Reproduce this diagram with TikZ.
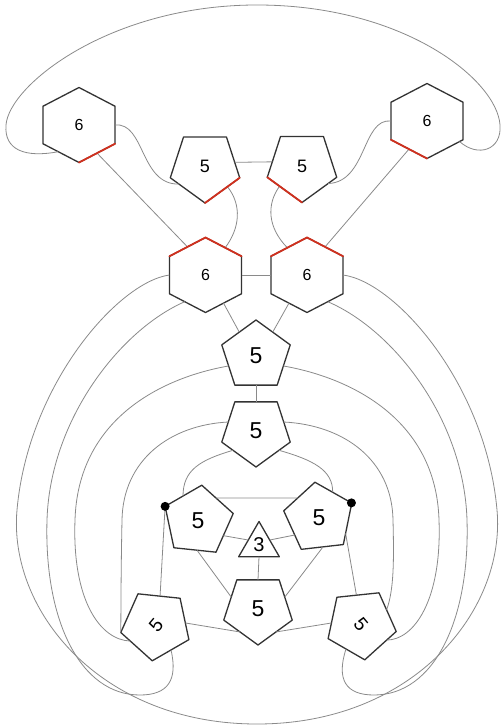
\documentclass[tikz,border=0pt]{standalone}
\usepackage{fontspec}
\setmainfont{Liberation Sans}
\usepackage{graphicx}
\usetikzlibrary{shapes.geometric}
\definecolor{outl}{HTML}{333333}
\definecolor{lnk}{HTML}{8A8A8A}
\definecolor{redc}{HTML}{D0301E}
\begin{document}
\begin{tikzpicture}[x=1pt,y=-1pt,
  shp/.style={regular polygon, draw=outl, line width=1.3pt, line join=round, inner sep=0pt, outer sep=0pt, fill=white},
  hexa/.style={shp, regular polygon sides=6, shape border rotate=30, minimum size=75pt, font=\fontsize{16}{16}\selectfont, transform shape},
  pentup/.style={shp, regular polygon sides=5, minimum size=72pt, font=\fontsize{23}{23}\selectfont},
  pentdn/.style={pentup, shape border rotate=180},
  pentsm/.style={pentdn, minimum size=73pt, font=\fontsize{18}{18}\selectfont},
  tri/.style={shp, regular polygon sides=3, minimum size=47pt, font=\fontsize{20}{20}\selectfont},
  link/.style={draw=lnk, line width=0.8pt},
  rededge/.style={draw=redc, line width=1.8pt, line cap=round, line join=round},
  dotn/.style={circle, fill=black, inner sep=0pt, minimum size=9pt}]
\useasboundingbox (0,0) rectangle (502,727);

% hexagons (slightly wide, as in the reference)
\begin{scope}[shift={(79,125)}, xscale=1.11]
  \node[hexa] (H1) at (0,0) {\scalebox{0.9}[1]{6}};
\end{scope}
\begin{scope}[shift={(427,121)}, xscale=1.11]
  \node[hexa] (H2) at (0,0) {\scalebox{0.9}[1]{6}};
\end{scope}
\begin{scope}[shift={(205.5,275)}, xscale=1.11]
  \node[hexa] (H3) at (0,0) {\scalebox{0.9}[1]{6}};
\end{scope}
\begin{scope}[shift={(307,275)}, xscale=1.11]
  \node[hexa] (H4) at (0,0) {\scalebox{0.9}[1]{6}};
\end{scope}

% pentagons and triangle
\node[pentsm] (P1) at (205,166.5) {5};
\node[pentsm] (P2) at (302,166) {5};
\node[pentup] (P3) at (256,356) {5};
\node[pentdn] (P4) at (256,431) {5};
\node[pentup, shape border rotate=-6] (P5) at (198,521) {5};
\node[pentup, shape border rotate=6.5] (P6) at (319,518) {5};
\node[tri] (T) at (259,545) {3};
\node[pentdn] (P7) at (258,609) {5};
\node[pentup, shape border rotate=30, font=\fontsize{19}{19}\selectfont] (P8) at (156,625) {\rotatebox{50}{5}};
\node[pentup, shape border rotate=-30, font=\fontsize{19}{19}\selectfont] (P9) at (361,624) {\rotatebox{-50}{5}};

% top connectors
\draw[link] (H1.235) .. controls (25,158) and (4,150) .. (6,125)
  .. controls (9,85) and (110,5) .. (257,5)
  .. controls (404,5) and (497,80) .. (500,125)
  .. controls (502,150) and (478,158) .. (H2.325);
\draw[link] (H1.0) .. controls (145,122) and (140,185) .. (P1.214);
\draw[link] (H2.180) .. controls (362,118) and (367,182) .. (P2.326);
\draw[link] (H1.300) -- (H3.120);
\draw[link] (H2.240) -- (H4.60);
\draw[link] (P1.318) .. controls (242,205) and (240,228) .. (H3.57);
\draw[link] (P2.222) .. controls (266,205) and (268,228) .. (H4.123);
\draw[link] (P1.8) -- (P2.172);
\draw[link] (H3.0) -- (H4.180);
\draw[link] (H3.300) -- (P3.125);
\draw[link] (H4.240) -- (P3.55);
\draw[link] (P3.south) -- (P4.north);

% outer loop A
\draw[link] (H3.180) .. controls (118,282) and (28,385) .. (17,510)
  .. controls (8,610) and (100,724) .. (257,724)
  .. controls (414,724) and (506,610) .. (497,510)
  .. controls (486,385) and (396,282) .. (H4.0);
% B
\draw[link] (H3.235) .. controls (120,330) and (50,420) .. (47,520)
  .. controls (44,620) and (80,695) .. (140,695)
  .. controls (168,695) and (178,680) .. (P8.301);
\draw[link] (H4.305) .. controls (394,330) and (464,420) .. (467,520)
  .. controls (470,620) and (434,695) .. (374,695)
  .. controls (346,695) and (336,680) .. (P9.239);
% C
\draw[link] (P3.200) .. controls (160,378) and (78,420) .. (75,520)
  .. controls (72,600) and (100,640) .. (P8.212);
\draw[link] (P3.340) .. controls (352,378) and (436,420) .. (439,520)
  .. controls (442,600) and (414,640) .. (P9.328);
% D
\draw[link] (P4.162) .. controls (170,425) and (123,460) .. (122,520)
  .. controls (121,570) and (121,600) .. (P8.192);
\draw[link] (P4.18) .. controls (344,425) and (392,460) .. (393,520)
  .. controls (394,560) and (394,590) .. (P9.29);
% E F
\draw[link] (P4.220) .. controls (200,460) and (183,470) .. (P5.121);
\draw[link] (P4.320) .. controls (313,460) and (333,470) .. (P6.62);

% lower straight connectors
\draw[link] (P5.52) -- (P6.137);
\draw[link] (P5.330) -- (T.155);
\draw[link] (P6.215) -- (T.25);
\draw[link] (T.south) -- (P7.north);
\draw[link] (P5.268) -- (P7.156);
\draw[link] (P6.278) -- (P7.24);
\draw[link] (P5.156) -- (P8.82);
\draw[link] (P6.330) -- (P9.99);
\draw[link] (P8.4) -- (P7.232);
\draw[link] (P9.178) -- (P7.308);

% red edges
\draw[rededge] (H1.270) -- (H1.330);
\draw[rededge] (H2.210) -- (H2.270);
\draw[rededge] (P1.270) -- (P1.342);
\draw[rededge] (P2.198) -- (P2.270);
\draw[rededge] (H3.150) -- (H3.90) -- (H3.30);
\draw[rededge] (H4.150) -- (H4.90) -- (H4.30);

% dots
\node[dotn] (D1) at (P5.156) {};
\node[dotn] (D2) at (P6.25) {};
\end{tikzpicture}
\end{document}
